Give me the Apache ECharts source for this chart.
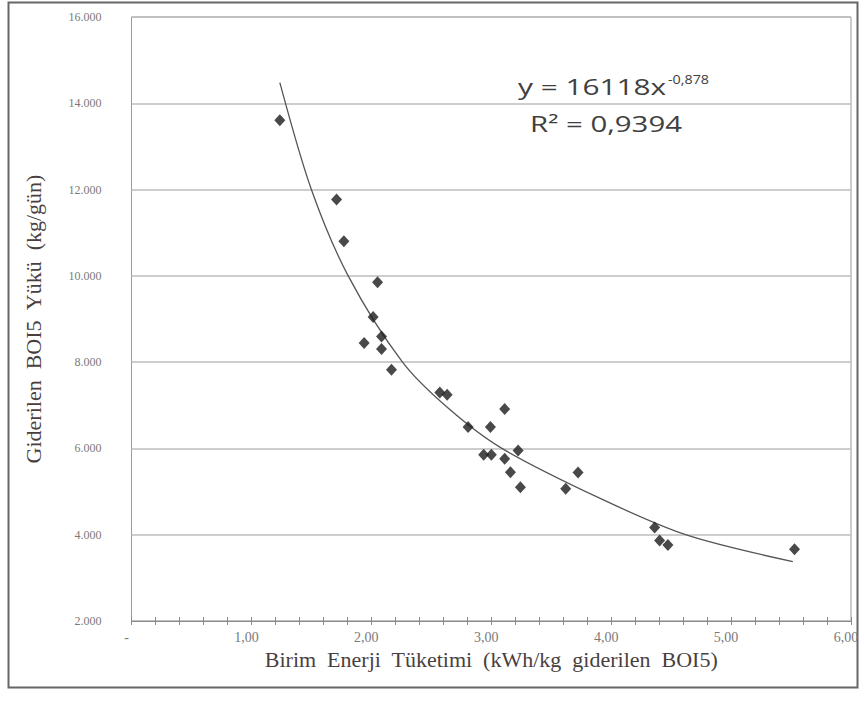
<!DOCTYPE html>
<html>
<head>
<meta charset="utf-8">
<script src="https://cdn.jsdelivr.net/npm/echarts@6/dist/echarts.min.js"></script>
<style>html,body{margin:0;padding:0;background:#fff}#c{width:863px;height:704px}</style>
</head>
<body>
<div id="c"></div>
<script>
// Measured points (x: kWh/kg removed BOI5, y: kg/day)
const pointX = [1.237, 1.71, 1.771, 2.052, 2.015, 1.94, 2.085, 2.085, 2.168, 2.571, 2.632, 3.112, 2.807, 2.993, 3.224, 2.937, 3.001, 3.112, 3.16, 3.724, 3.243, 3.621, 4.3625, 4.404, 4.473, 5.529];
const pointY = [13608, 11768, 10800, 9849, 9046, 8443, 8596, 8304, 7824, 7297, 7244, 6912, 6494, 6494, 5951, 5852, 5852, 5759, 5450, 5441, 5102, 5063, 4165, 3863, 3763, 3663];
// Trend curve
const trendX = [1.237, 1.50, 1.807, 2.26, 2.64, 3.085, 3.904, 4.627, 5.515];
const trendY = [14480, 12000, 10000, 8000, 6935, 6007, 4847, 3995, 3376];
const xTicks = ['-', '1,00', '2,00', '3,00', '4,00', '5,00', '6,00'];
const yTicks = ['2.000', '4.000', '6.000', '8.000', '10.000', '12.000', '14.000', '16.000'];
const xTitle = 'Birim  Enerji  Tüketimi  (kWh/kg  giderilen  BOI5)';
const yTitle = 'Giderilen  BOI5  Yükü  (kg/gün)';
const eqLine1 = 'y = 16118x';
const eqExp = '-0,878';
const eqLine2 = 'R² = 0,9394';

const chart = echarts.init(document.getElementById('c'), null, {renderer: 'svg'});
const serif = '"Liberation Serif", "DejaVu Serif", serif';
const sans = '"Open Sans", "Liberation Sans", sans-serif';
chart.setOption({
  animation: false,
  backgroundColor: '#fff',
  grid: {left: 131.5, right: 12, top: 17, bottom: 83, show: true, borderColor: '#9a9a9a', borderWidth: 1},
  xAxis: [{
    type: 'value', min: 0, max: 6, interval: 1,
    name: xTitle, nameLocation: 'middle', nameGap: 16,
    nameTextStyle: {fontFamily: serif, fontSize: 22, color: '#4a3f3f'},
    axisLine: {show: true, onZero: false, lineStyle: {color: '#8c8c8c', width: 1}},
    axisTick: {show: true, length: 4, lineStyle: {color: '#8c8c8c'}},
    minorTick: {show: true, splitNumber: 5, length: 4, lineStyle: {color: '#8c8c8c'}},
    axisLabel: {fontFamily: serif, fontSize: 14, color: '#7a7a7a', margin: 9, padding: [0, 10, 0, 0],
      formatter: (v) => xTicks[Math.round(v)]},
    splitLine: {show: false}
  }, {
    type: 'value', min: 0, max: 6, interval: 1, position: 'bottom',
    axisLine: {show: false},
    axisTick: {show: true, inside: true, length: 4, lineStyle: {color: '#8c8c8c'}},
    minorTick: {show: true, splitNumber: 5, length: 4, lineStyle: {color: '#8c8c8c'}},
    axisLabel: {show: false}, splitLine: {show: false}
  }],
  yAxis: {
    type: 'value', min: 2000, max: 16000, interval: 2000,
    name: yTitle, nameLocation: 'middle', nameGap: 87, nameRotate: 90,
    nameTextStyle: {fontFamily: serif, fontSize: 22, color: '#4a3f3f'},
    axisLine: {show: false}, axisTick: {show: false},
    axisLabel: {fontFamily: serif, fontSize: 12, color: '#7a7a7a', margin: 30,
      formatter: (v) => yTicks[Math.round((v - 2000) / 2000)]},
    splitLine: {show: true, lineStyle: {color: '#bdbdbd', width: 1.5}}
  },
  graphic: [
    {type: 'rect', shape: {x: 8.5, y: 2.5, width: 849, height: 685}, style: {fill: 'none', stroke: '#666', lineWidth: 2}, silent: true},
    {type: 'text', x: 518, y: 76, scaleX: 1.42, style: {text: eqLine1, font: '21px ' + sans, fill: '#404040', verticalAlign: 'top'}},
    {type: 'text', x: 668, y: 72, scaleX: 1.1, style: {text: eqExp, font: '13px ' + sans, fill: '#404040', verticalAlign: 'top'}},
    {type: 'text', x: 530, y: 113, scaleX: 1.4, style: {text: eqLine2, font: '21px ' + sans, fill: '#404040', verticalAlign: 'top'}}
  ],
  series: [{
    type: 'line', smooth: 0.3, showSymbol: false, silent: true,
    data: trendX.map((x, i) => [x, trendY[i]]),
    lineStyle: {color: '#555', width: 1.3}, z: 2
  }, {
    type: 'scatter', symbol: 'diamond', symbolSize: [11, 12],
    data: pointX.map((x, i) => [x, pointY[i]]),
    itemStyle: {color: '#1c1c1c'}, z: 3
  }]
});
</script>
</body>
</html>
